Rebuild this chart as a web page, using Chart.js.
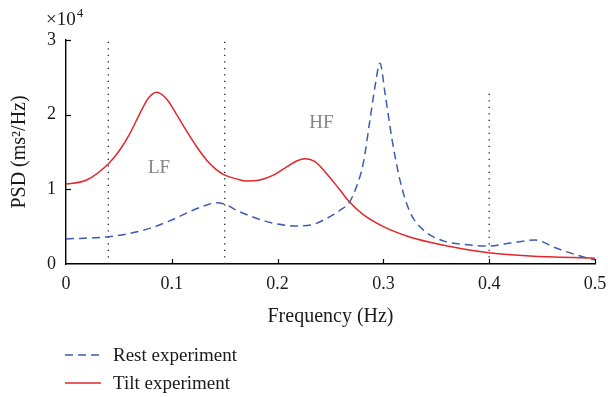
<!DOCTYPE html>
<html><head><meta charset="utf-8">
<script src="https://cdn.jsdelivr.net/npm/chart.js@4"></script>
<style>
html,body{margin:0;padding:0;background:#fff;}
#wrap{position:relative;width:608px;height:397px;overflow:hidden;}
#c{position:absolute;left:0;top:0;}
#legend{position:absolute;left:65px;top:341px;font-family:"Liberation Serif","Times New Roman",serif;font-size:19px;color:#1a1a1a;}
.row{display:flex;align-items:center;height:28px;}
.row svg{margin-right:12px;}
</style></head><body>
<div id="wrap"><canvas id="c" width="608" height="397"></canvas><div id="legend"></div></div>
<script>
// ---- data (PSD in ms^2/Hz) ----
const restFreq = [0, 0.0406, 0.0605, 0.08, 0.1, 0.12, 0.133, 0.1424, 0.152, 0.161, 0.171, 0.187, 0.2, 0.218, 0.2337, 0.2464, 0.2527, 0.259, 0.268, 0.2747, 0.281, 0.2873, 0.292, 0.2968, 0.3015, 0.3078, 0.3157, 0.325, 0.3378, 0.3566, 0.3819, 0.4, 0.4197, 0.4433, 0.4638, 0.4827, 0.5];
const restPsd  = [3350, 3660, 4100, 4800, 5900, 7200, 7900, 8200, 7900, 7200, 6600, 5800, 5350, 5100, 5300, 6100, 6600, 7200, 8300, 10400, 13500, 19300, 23700, 26900, 22900, 17000, 11200, 7000, 4550, 3100, 2550, 2400, 2800, 3200, 2100, 1200, 540];
const tiltFreq = [0, 0.0195, 0.0406, 0.051, 0.0605, 0.07, 0.0778, 0.0857, 0.0951, 0.1046, 0.114, 0.1235, 0.133, 0.1424, 0.15, 0.161, 0.171, 0.1834, 0.196, 0.2086, 0.218, 0.2265, 0.2353, 0.2464, 0.259, 0.268, 0.281, 0.3, 0.322, 0.344, 0.3755, 0.4, 0.4386, 0.5];
const tiltPsd  = [10700, 11250, 13500, 15300, 17500, 20200, 22200, 23000, 22100, 20000, 17800, 15700, 13900, 12600, 11900, 11400, 11100, 11250, 11900, 13000, 13800, 14100, 13700, 12100, 9900, 8300, 6600, 5000, 3750, 2900, 2000, 1500, 1070, 770];
const seriesNames = ['Rest experiment', 'Tilt experiment'];
const xTicks = [0, 0.1, 0.2, 0.3, 0.4, 0.5];
const yTicks = [0, 10000, 20000, 30000];
const bandEdges = [0.04, 0.15, 0.4];
const bandTops  = [30000, 30000, 23000];
const bandLabels = ['LF', 'HF'];
const bandLabelFreq = [0.0879, 0.2415];
const bandLabelPsd  = [12860, 18920];

const SERIF = '"Liberation Serif","Times New Roman",serif';
const BLUE = '#3b5cb3';
const RED = '#e3262b';

const pts = (xs, ys) => xs.map((x, i) => ({x, y: ys[i]}));

const datasets = [
  {label: seriesNames[0], data: pts(restFreq, restPsd), borderColor: BLUE, borderWidth: 1.5, borderDash: [8, 5], pointRadius: 0, cubicInterpolationMode: 'monotone', fill: false},
  {label: seriesNames[1], data: pts(tiltFreq, tiltPsd), borderColor: RED, borderWidth: 1.5, pointRadius: 0, cubicInterpolationMode: 'monotone', fill: false}
];
bandEdges.forEach((f, i) => {
  datasets.push({label: '', data: [{x: f, y: 0}, {x: f, y: bandTops[i]}], borderColor: '#222', borderWidth: 1.3, borderDash: [1.3, 5.2], pointRadius: 0, fill: false});
});

const extras = {
  id: 'extras',
  afterDraw(chart) {
    const {ctx, scales: {x, y}} = chart;
    ctx.save();
    ctx.strokeStyle = '#000';
    ctx.lineWidth = 1.2;
    xTicks.forEach(v => {
      if (v === 0) return;
      const px = Math.round(x.getPixelForValue(v)) + 0.5;
      ctx.beginPath(); ctx.moveTo(px, y.bottom); ctx.lineTo(px, y.bottom - 5); ctx.stroke();
    });
    yTicks.forEach(v => {
      if (v === 0) return;
      const py = Math.round(y.getPixelForValue(v)) + 0.5;
      ctx.beginPath(); ctx.moveTo(x.left, py); ctx.lineTo(x.left + 5, py); ctx.stroke();
    });
    // exponent label
    ctx.fillStyle = '#1a1a1a';
    ctx.textAlign = 'left';
    ctx.textBaseline = 'alphabetic';
    ctx.font = '19px ' + SERIF;
    const bx = x.left - 20, by = y.top - 15;
    ctx.fillText('×10', bx, by);
    const w = ctx.measureText('×10').width;
    ctx.font = '13px ' + SERIF;
    ctx.fillText('4', bx + w + 1, by - 8);
    // band labels
    ctx.fillStyle = '#858585';
    ctx.font = '19px ' + SERIF;
    ctx.textAlign = 'center';
    ctx.textBaseline = 'middle';
    bandLabels.forEach((t, i) => {
      ctx.fillText(t, x.getPixelForValue(bandLabelFreq[i]), y.getPixelForValue(bandLabelPsd[i]));
    });
    ctx.restore();
  }
};

new Chart(document.getElementById('c'), {
  type: 'line',
  data: {datasets},
  plugins: [extras],
  options: {
    responsive: false,
    animation: false,
    layout: {padding: {left: 0, top: 40, right: 13, bottom: 0}},
    plugins: {legend: {display: false}, tooltip: {enabled: false}},
    scales: {
      x: {
        type: 'linear', min: 0, max: 0.5,
        afterBuildTicks: s => { s.ticks = xTicks.map(v => ({value: v})); },
        afterFit: s => { s.height = 133; s.paddingRight = 0; s.paddingLeft = 0; },
        grid: {display: false, drawTicks: false},
        border: {display: true, color: '#000', width: 1.4},
        ticks: {color: '#1a1a1a', font: {family: SERIF, size: 18}, padding: 9, callback: v => String(v)},
        title: {display: true, text: 'Frequency (Hz)', color: '#1a1a1a', font: {family: SERIF, size: 20}, padding: {top: 0, bottom: 68}}
      },
      y: {
        type: 'linear', min: 0, max: 30000,
        afterBuildTicks: s => { s.ticks = yTicks.map(v => ({value: v})); },
        afterFit: s => { s.width = 66; },
        grid: {display: false, drawTicks: false},
        border: {display: true, color: '#000', width: 1.4},
        ticks: {color: '#1a1a1a', font: {family: SERIF, size: 18}, padding: 10, callback: v => String(v / 10000)},
        title: {display: true, text: 'PSD (ms²/Hz)', color: '#1a1a1a', font: {family: SERIF, size: 20}, padding: {top: 8, bottom: 0}}
      }
    }
  }
});

// HTML legend
const legend = document.getElementById('legend');
[{name: seriesNames[0], color: BLUE, dash: '8 5'}, {name: seriesNames[1], color: RED, dash: ''}].forEach(it => {
  const row = document.createElement('div');
  row.className = 'row';
  row.innerHTML = `<svg width="36" height="6"><line x1="0" y1="3" x2="36" y2="3" stroke="${it.color}" stroke-width="1.6" ${it.dash ? `stroke-dasharray="${it.dash}"` : ''}/></svg><span>${it.name}</span>`;
  legend.appendChild(row);
});
</script>
</body></html>
